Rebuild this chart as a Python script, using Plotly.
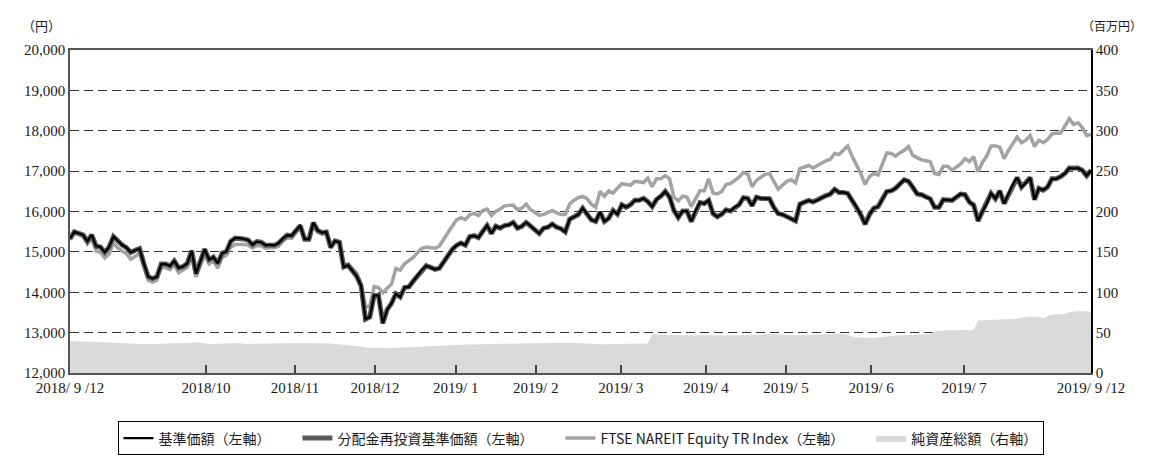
import plotly.graph_objects as go

# 基準価額（円） – readings per trading day, 2018/9/12 – 2019/9/12
nav = [
    15325, 15498, 15460, 15420, 15263, 15420, 15145, 15120, 14988, 15120,
    15380, 15263, 15170, 15105, 14988, 15040, 15080, 14714, 14384, 14337,
    14384, 14698, 14698, 14650, 14776, 14604, 14635, 14714, 15027, 14463,
    14750, 15066, 14808, 14870, 14714, 14965, 15010, 15263, 15340, 15340,
    15318, 15294, 15176, 15255, 15239, 15161, 15176, 15161, 15216, 15333,
    15412, 15396, 15529, 15647, 15318, 15318, 15725, 15529, 15475, 15490,
    15114, 15271, 15239, 14627, 14667, 14533, 14392, 14157, 13333, 13388,
    13922, 13922, 13231, 13569, 13725, 13961, 13882, 14118, 14133, 14275,
    14412, 14553, 14655, 14616, 14569, 14592, 14749, 14906, 15063, 15165,
    15220, 15165, 15376, 15400, 15353, 15510, 15651, 15455, 15635, 15588,
    15651, 15667, 15729, 15588, 15635, 15729, 15635, 15533, 15455, 15588,
    15612, 15690, 15612, 15573, 15494, 15808, 15871, 15925, 16082, 15925,
    15792, 15753, 15988, 15753, 15831, 16027, 15933, 16168, 16105, 16168,
    16277, 16277, 16324, 16246, 16121, 16301, 16379, 16496, 16356, 16027,
    15854, 16011, 16011, 15753, 16027, 16222, 16199, 16277, 15948, 15870,
    15933, 16042, 16011, 16105, 16168, 16340, 16324, 16144, 16356, 16324,
    16315, 16315, 16103, 15947, 15923, 15868, 15821, 15766, 16182, 16237,
    16276, 16237, 16276, 16339, 16393, 16433, 16550, 16472, 16472, 16448,
    16276, 16119, 15923, 15688, 15923, 16080, 16119, 16315, 16495, 16511,
    16574, 16683, 16785, 16746, 16605, 16433, 16417, 16354, 16315, 16103,
    16103, 16292, 16276, 16276, 16354, 16433, 16417, 16237, 16158, 15766,
    16002, 16197, 16448, 16315, 16511, 16197, 16433, 16668, 16840, 16605,
    16707, 16840, 16292, 16574, 16527, 16605, 16809, 16809, 16864, 16942,
    17075, 17060, 17075, 17020, 16887, 17020,
]

# 分配金再投資基準価額（円） – no distributions in the period, identical to NAV
nav_reinvested = list(nav)

# FTSE NAREIT Equity TR Index（円換算・指数化）
ftse = [
    15300, 15470, 15430, 15380, 15200, 15330, 15020, 14990, 14850, 14950,
    15220, 15100, 15020, 14950, 14820, 14900, 14960, 14620, 14300, 14250,
    14300, 14620, 14610, 14560, 14680, 14480, 14560, 14620, 14900, 14380,
    14660, 14930, 14700, 14770, 14600, 14860, 14920, 15120, 15180, 15190,
    15180, 15170, 15098, 15160, 15150, 15090, 15110, 15100, 15140, 15271,
    15350, 15340, 15480, 15610, 15290, 15290, 15690, 15490, 15440, 15450,
    15130, 15250, 15210, 14660, 14700, 14580, 14470, 14200, 13650, 13650,
    14141, 14118, 13984, 14100, 14200, 14588, 14550, 14706, 14780, 14863,
    14984, 15086, 15118, 15100, 15090, 15140, 15330, 15480, 15640, 15800,
    15847, 15800, 15920, 15960, 15900, 16027, 16059, 15902, 16004, 16059,
    16140, 16161, 16161, 16043, 16082, 16184, 16043, 15980, 15902, 15925,
    15965, 16027, 15965, 15925, 15925, 16184, 16278, 16341, 16373, 16318,
    16183, 16105, 16496, 16379, 16512, 16457, 16575, 16692, 16668, 16653,
    16747, 16731, 16716, 16826, 16614, 16810, 16810, 16888, 16810, 16356,
    16262, 16379, 16356, 16121, 16324, 16512, 16512, 16810, 16457, 16434,
    16496, 16669, 16692, 16771, 16849, 16966, 16927, 16614, 16771, 16849,
    16919, 16942, 16746, 16550, 16652, 16746, 16785, 16707, 17060, 17099,
    17138, 17075, 17138, 17201, 17256, 17295, 17436, 17412, 17530, 17624,
    17373, 17177, 16942, 16668, 16864, 16942, 16903, 17177, 17451, 17436,
    17373, 17451, 17514, 17608, 17389, 17334, 17279, 17256, 17232, 16942,
    16919, 17122, 17122, 17020, 17099, 17177, 17310, 17232, 17357, 16981,
    17216, 17373, 17624, 17624, 17593, 17310, 17514, 17687, 17843, 17702,
    17765, 17882, 17608, 17765, 17702, 17781, 17922, 17937, 17937, 18118,
    18298, 18157, 18196, 18078, 17882, 17906,
]

# 純資産総額（百万円）
net_assets = [
    39.6, 39.5, 39.3, 39.1, 38.9, 38.6, 38.4, 38.2, 38.0, 37.8,
    37.5, 37.2, 37.0, 36.8, 36.5, 36.2, 36.0, 35.8, 35.7, 35.8,
    35.9, 36.0, 36.2, 36.4, 36.6, 36.8, 37.0, 37.2, 37.6, 38.0,
    37.2, 36.0, 35.8, 36.0, 36.3, 36.5, 36.6, 36.8, 37.0, 37.2,
    36.0, 36.0, 36.1, 36.2, 36.3, 36.4, 36.5, 36.6, 36.7, 36.8,
    36.9, 37.0, 37.0, 37.1, 37.2, 37.2, 37.1, 37.0, 36.9, 36.7,
    36.4, 36.0, 35.6, 35.2, 34.8, 34.2, 33.6, 32.8, 32.0, 31.3,
    31.0, 31.5, 31.0, 30.8, 31.0, 31.3, 31.6, 31.9, 32.2, 32.5,
    32.8, 33.1, 33.2, 33.6, 34.0, 34.1, 34.5, 34.9, 35.0, 35.0,
    35.2, 35.4, 35.3, 35.5, 35.7, 35.6, 35.8, 36.0, 35.9, 36.1,
    36.3, 36.2, 36.4, 36.6, 36.5, 36.7, 36.9, 36.8, 37.0, 37.2,
    37.1, 37.3, 37.5, 37.4, 37.6, 37.7, 37.6, 37.3, 36.9, 36.4,
    36.0, 35.8, 35.7, 35.6, 35.6, 35.7, 35.8, 35.9, 36.0, 36.1,
    36.2, 36.4, 36.5, 36.6, 48.2, 48.0, 47.6, 47.2, 46.9, 46.7,
    46.7, 46.8, 46.9, 47.0, 47.2, 47.3, 47.4, 47.2, 46.8, 46.4,
    46.3, 46.3, 46.4, 46.5, 46.6, 46.7, 46.8, 46.9, 47.2, 47.6,
    48.2, 48.6, 48.3, 47.8, 47.3, 46.9, 46.7, 46.7, 46.8, 47.0,
    47.3, 47.6, 47.9, 48.1, 48.3, 48.4, 48.5, 48.6, 48.6, 47.5,
    45.0, 44.2, 43.8, 43.6, 43.5, 43.6, 44.2, 45.0, 45.8, 46.3,
    46.5, 46.7, 46.9, 47.1, 47.3, 47.5, 47.7, 47.9, 48.1, 52.0,
    52.6, 52.7, 52.8, 52.9, 53.0, 53.1, 53.2, 53.3, 53.4, 65.0,
    65.3, 65.6, 66.0, 66.4, 66.8, 67.0, 67.1, 67.0, 67.2, 68.5,
    69.4, 69.6, 69.7, 69.8, 67.8, 70.5, 72.0, 72.6, 73.0, 73.4,
    75.5, 76.2, 76.5, 76.4, 76.0, 75.7,
]

# x-axis: trading-day index of each labelled date
tick_day_index = [0, 31.3, 51.8, 70.2, 88.8, 107.2, 126.8, 146.4, 164.8, 184.4, 205.8, 235]
tick_labels = ["2018/ 9 /12", "2018/10", "2018/11", "2018/12", "2019/ 1", "2019/ 2",
               "2019/ 3", "2019/ 4", "2019/ 5", "2019/ 6", "2019/ 7", "2019/ 9 /12"]

left_ticks = [12000, 13000, 14000, 15000, 16000, 17000, 18000, 19000, 20000]
left_tick_labels = ["12,000", "13,000", "14,000", "15,000", "16,000", "17,000", "18,000", "19,000", "20,000"]
right_ticks = [0, 50, 100, 150, 200, 250, 300, 350, 400]

legend_names = ["基準価額（左軸）", "分配金再投資基準価額（左軸）",
                "FTSE NAREIT Equity TR Index（左軸）", "純資産総額（右軸）"]

days = list(range(len(nav)))

SERIF = "Liberation Serif, DejaVu Serif, Noto Sans CJK JP, serif"
CJK = "Noto Sans CJK JP, Liberation Serif, sans-serif"
PAD = "\u00a0" * 7

fig = go.Figure()

fig.add_trace(go.Scatter(
    x=days, y=ftse, mode="lines", name=legend_names[2] + PAD,
    line=dict(color="#a3a3a3", width=3.5), legendrank=3,
))
fig.add_trace(go.Scatter(
    x=days, y=nav_reinvested, mode="lines", name=legend_names[1] + PAD,
    line=dict(color="#5a5a5a", width=5), legendrank=2,
))
fig.add_trace(go.Scatter(
    x=days, y=nav, mode="lines", name=legend_names[0] + PAD,
    line=dict(color="#000000", width=2.2), legendrank=1,
))
fig.add_trace(go.Scatter(
    x=days, y=net_assets, mode="lines", name=legend_names[3], yaxis="y2",
    fill="tozeroy", fillcolor="#d9dadb", line=dict(color="#d9dadb", width=0),
    legendrank=4,
))

fig.update_layout(
    width=1155, height=460,
    margin=dict(l=62, r=72, t=42, b=78),
    paper_bgcolor="white", plot_bgcolor="white",
    font=dict(family=SERIF, size=15, color="#1a1a1a"),
    showlegend=True,
    legend=dict(
        orientation="h", x=0.5, xanchor="center", y=-0.15, yanchor="top",
        bordercolor="#000000", borderwidth=1, bgcolor="white",
        font=dict(family=CJK, size=14, color="#1a1a1a"),
        itemwidth=30, tracegroupgap=0,
    ),
    xaxis=dict(
        range=[0, len(nav) - 1], tickmode="array",
        tickvals=tick_day_index, ticktext=tick_labels,
        ticks="inside", ticklen=8, tickwidth=1.5, tickcolor="#444444",
        showline=True, linecolor="#555555", linewidth=1.5, mirror=True,
        showgrid=False, zeroline=False,
        tickfont=dict(family=SERIF, size=15),
    ),
    yaxis=dict(
        range=[12000, 20000], tickmode="array",
        tickvals=left_ticks, ticktext=left_tick_labels,
        showline=True, linecolor="#555555", linewidth=1.5,
        showgrid=True, gridcolor="#333333", gridwidth=1, griddash="9px,5px",
        zeroline=False, ticks="",
        tickfont=dict(family=SERIF, size=15),
    ),
    yaxis2=dict(
        range=[0, 400], tickmode="array", tickvals=right_ticks,
        overlaying="y", side="right",
        showline=True, linecolor="#000000", linewidth=1.5,
        showgrid=False, zeroline=False, ticks="",
        tickfont=dict(family=SERIF, size=15),
    ),
    annotations=[
        dict(text="（円）", xref="paper", yref="paper", x=-0.028, y=1.075,
             xanchor="center", yanchor="middle", showarrow=False,
             font=dict(family=CJK, size=13, color="#1a1a1a")),
        dict(text="（百万円）", xref="paper", yref="paper", x=1.052, y=1.075,
             xanchor="right", yanchor="middle", showarrow=False,
             font=dict(family=CJK, size=12, color="#1a1a1a")),
    ],
)

fig.write_html("out.html")
